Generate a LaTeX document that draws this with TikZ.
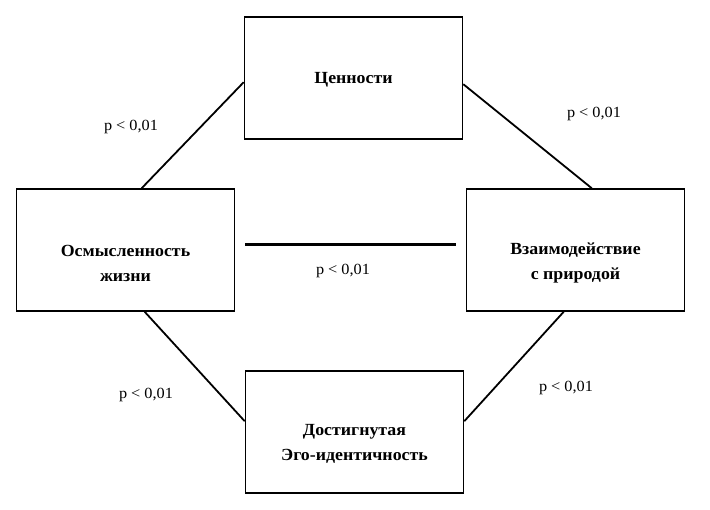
\documentclass[tikz,border=0pt]{standalone}
\usepackage{fontspec}
\setmainfont{Liberation Serif}[FakeStretch=1.05]
\begin{document}
\begin{tikzpicture}[x=1pt,y=-1pt,
  box/.style={draw,line width=1.6pt,minimum width=218pt,minimum height=122pt,inner sep=0pt},
  boxtext/.style={font=\fontsize{17}{25}\selectfont\bfseries,align=center},
  plabel/.style={font=\fontsize{15.5}{18}\selectfont},
  link/.style={line width=1.8pt}]
\useasboundingbox (0,0) rectangle (710,510);
\node[box] (T) at (353.5,78) {};
\node[box] (L) at (125.5,250) {};
\node[box] (R) at (575.5,250) {};
\node[box] (B) at (354.5,432) {};
\node[boxtext] (Tt) at (353.5,80) {Ценности};
\node[boxtext] (Lt) at (125.5,263) {Осмысленность\\жизни};
\node[boxtext] (Rt) at (575.5,263) {Взаимодействие\\с природой};
\node[boxtext] (Bt) at (354.5,444) {Достигнутая\\Эго-идентичность};
\draw[link] ([xshift=126pt]L.north west) -- ([yshift=-66pt]T.north west);
\draw[link] ([yshift=-68pt]T.north east) -- ([xshift=126pt]R.north west);
\draw[link] ([xshift=129pt]L.south west) -- ([yshift=-51pt]B.north west);
\draw[link] ([xshift=98pt]R.south west) -- ([yshift=-51pt]B.north east);
\draw[line width=3pt] ([xshift=10pt,yshift=5pt]L.east) -- ([xshift=-10pt,yshift=5pt]R.west);
\node[plabel] (p1) at (131,127) {p < 0,01};
\node[plabel] (p2) at (594,114) {p < 0,01};
\node[plabel] (p3) at (343,271) {p < 0,01};
\node[plabel] (p4) at (146,395) {p < 0,01};
\node[plabel] (p5) at (566,388) {p < 0,01};
\end{tikzpicture}
\end{document}
